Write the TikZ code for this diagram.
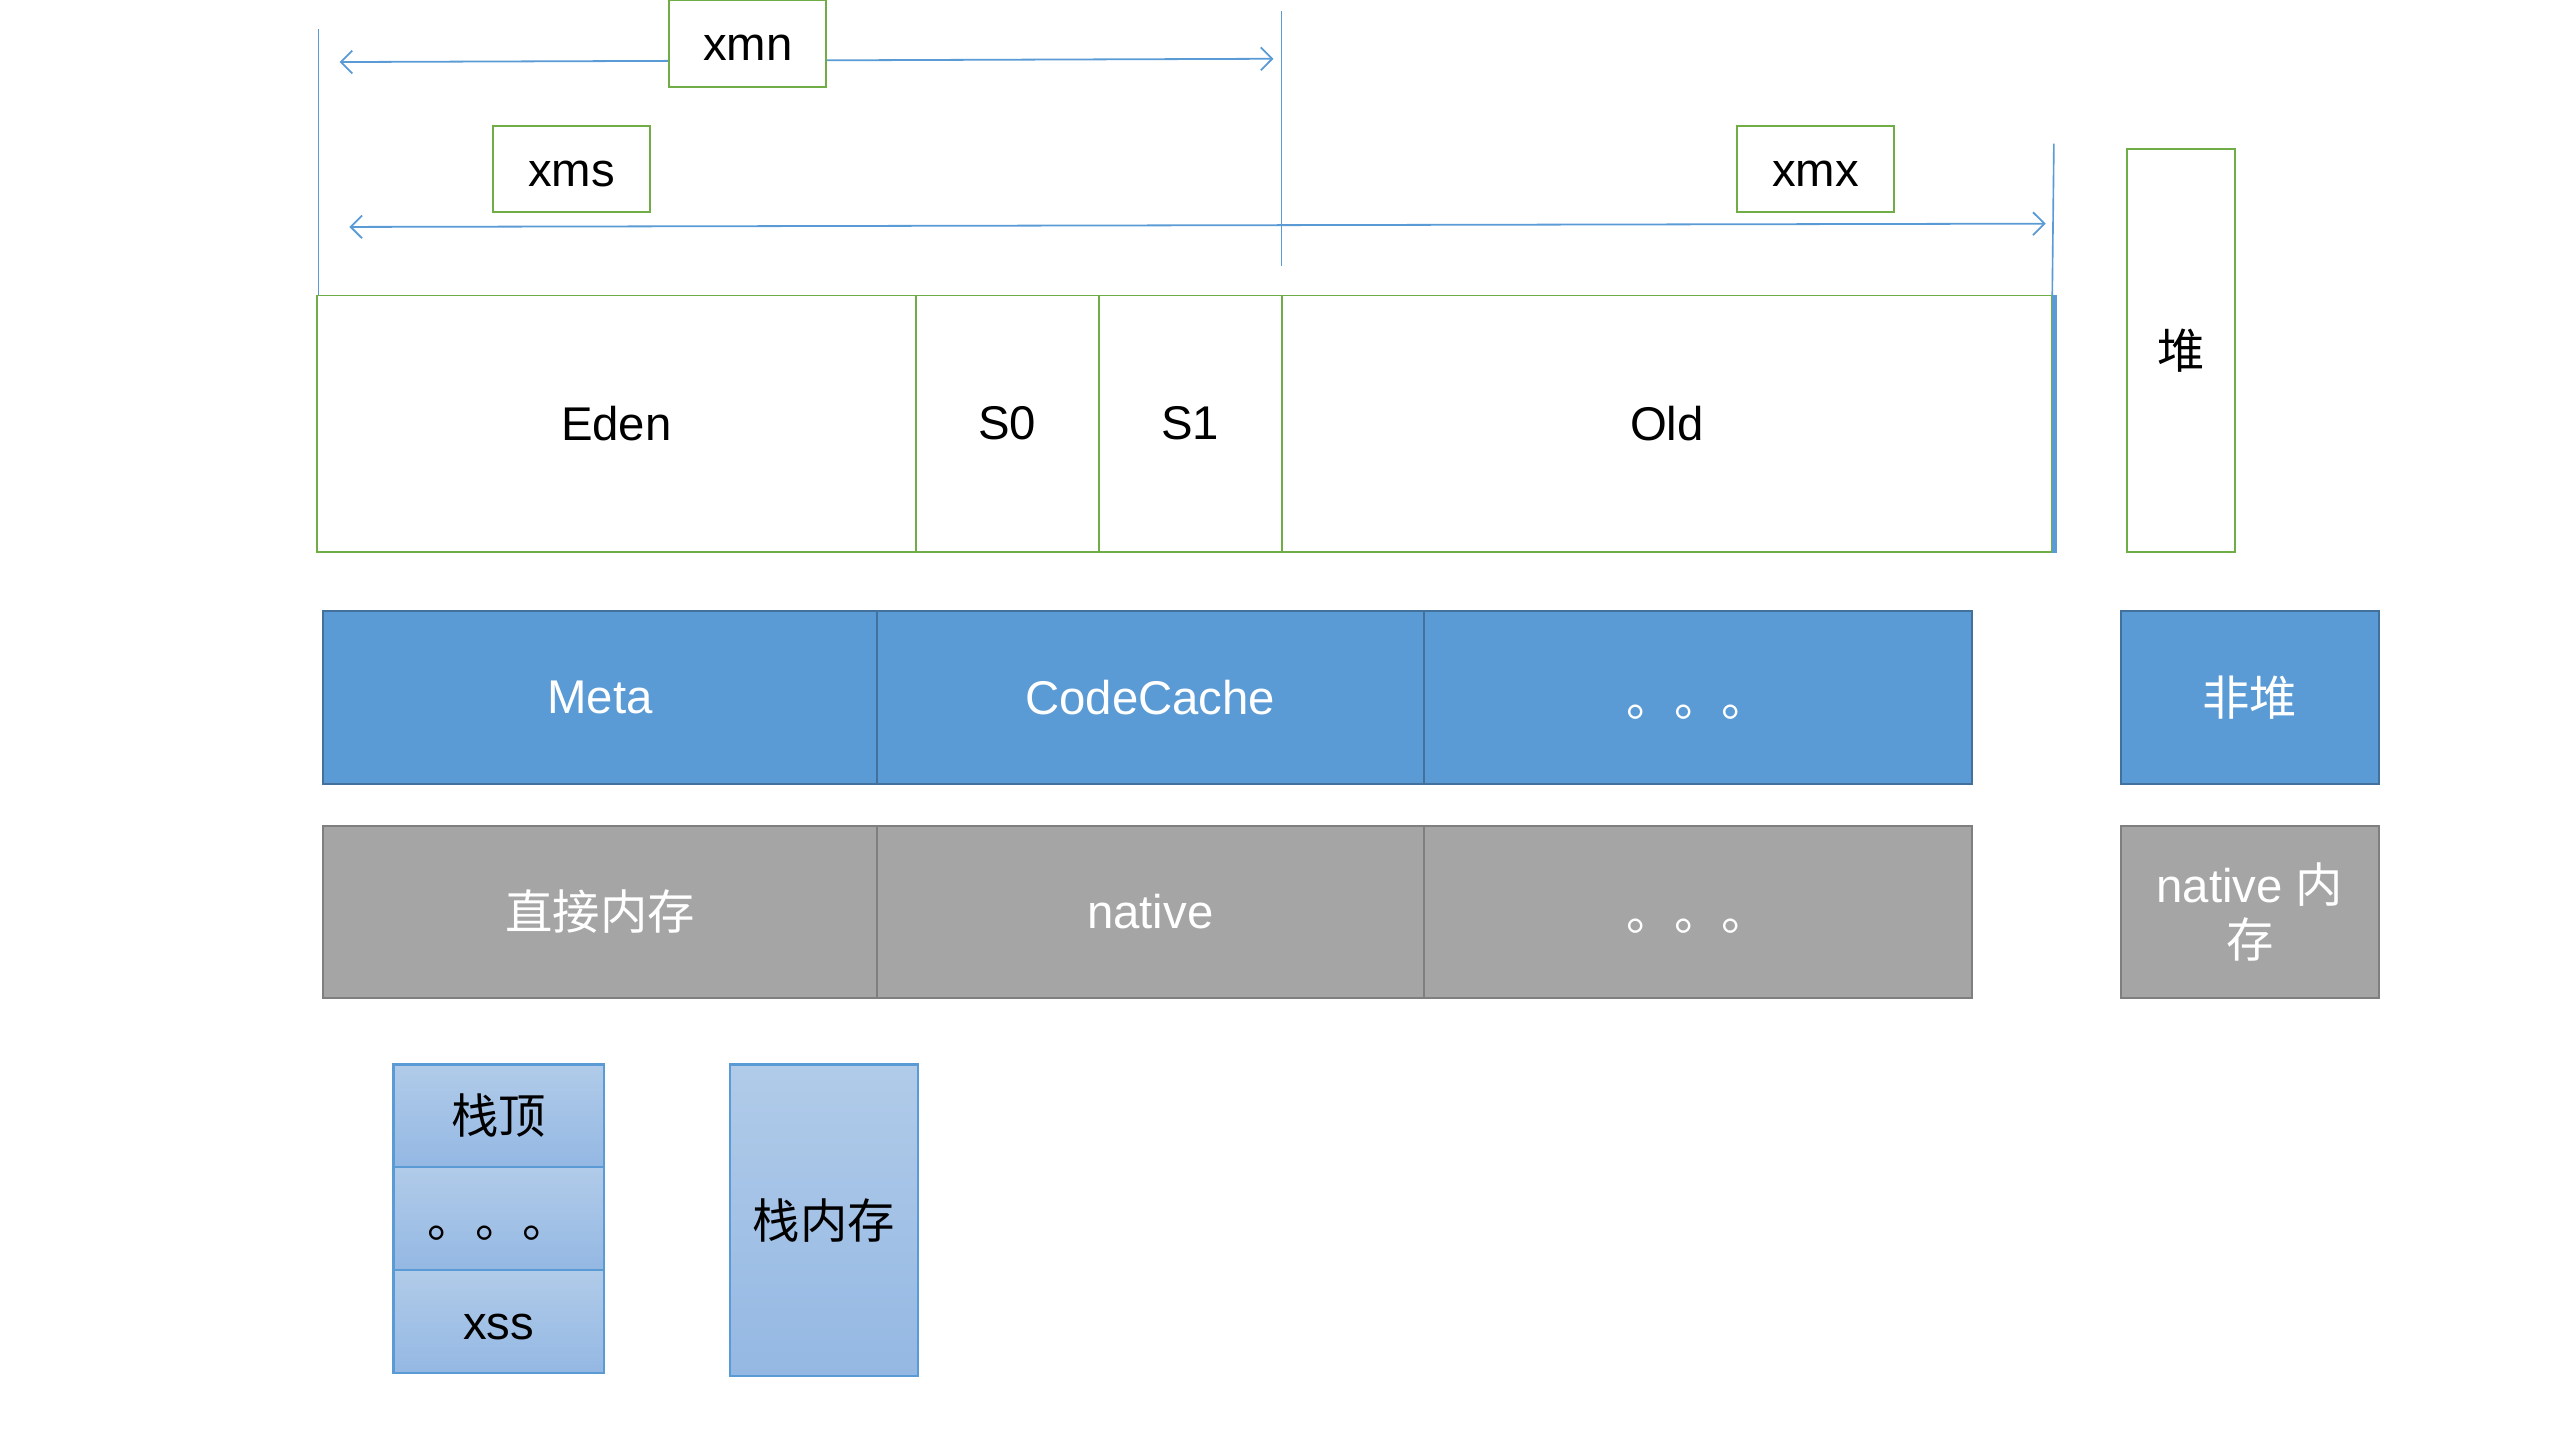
\documentclass[tikz,border=0pt]{standalone}
\usepackage{fontspec}
\setmainfont{Liberation Sans}
\newfontfamily\cjk{Noto Sans CJK SC}
\usetikzlibrary{arrows.meta}
\definecolor{gline}{HTML}{70AD47}
\definecolor{bline}{HTML}{5B9BD5}
\definecolor{bfill}{HTML}{5B9BD5}
\definecolor{bborder}{HTML}{41719C}
\definecolor{gfill}{HTML}{A5A5A5}
\definecolor{gborder}{HTML}{7F7F7F}
\definecolor{stacktop}{HTML}{B1CBE9}
\definecolor{stackbot}{HTML}{94B8E3}
\newcommand{\lowdots}{\raisebox{-9pt}[\height][\depth]{\cjk 。。。}}
\newcommand{\lowtxt}[1]{\raisebox{-3pt}[\height][\depth]{#1}}
\begin{document}
\begin{tikzpicture}[x=1pt,y=-1pt,
  txt/.style={font=\fontsize{29}{34}\selectfont, inner sep=0pt, align=center},
  heapbox/.style={draw=gline, line width=1.2pt, fill=white, txt},
  nonheap/.style={draw=bborder, line width=1.2pt, fill=bfill, text=white, txt, minimum height=106pt},
  graybox/.style={draw=gborder, line width=1.2pt, fill=gfill, text=white, txt, minimum height=105pt},
  stackbox/.style={draw=bline, line width=1.3pt, top color=stacktop, bottom color=stackbot, txt},
  guide/.style={draw=bline, line width=1pt},
  arr/.style={draw=bline, line width=1.1pt, arrows={Straight Barb[length=7pt,width=14pt]-Straight Barb[length=7pt,width=14pt]}}
]
\useasboundingbox (0,0) rectangle (1568,882);

% guide lines
\coordinate (gl1) at (195,18);  \coordinate (gl2) at (195,181);
\coordinate (gm1) at (785,7);   \coordinate (gm2) at (785,163);
\coordinate (gr1) at (1258,88); \coordinate (gr2) at (1257,181);
\draw[guide] (gl1) -- (gl2);
\draw[guide] (gm1) -- (gm2);
\draw[guide] (gr1) -- (gr2);

% arrows
\coordinate (xmnL) at (208,38); \coordinate (xmnR) at (780,36);
\coordinate (xmsL) at (214,139); \coordinate (xmsR) at (1253,137);
\draw[arr] (xmnL) -- (xmnR);
\draw[arr] (xmsL) -- (xmsR);

% labels
\node[heapbox, minimum width=96pt, minimum height=53pt] (xmn) at (458,26.5) {\lowtxt{xmn}};
\node[heapbox, minimum width=96pt, minimum height=53pt] (xms) at (350,103.5) {\lowtxt{xms}};
\node[heapbox, minimum width=96pt, minimum height=53pt] (xmx) at (1112,103.5) {\lowtxt{xmx}};

% heap
\node[heapbox, minimum width=367pt, minimum height=157pt] (eden) at (377.5,259.5) {Eden};
\node[heapbox, minimum width=112pt, minimum height=157pt] (s0) at (617,259.5) {S0};
\node[heapbox, minimum width=112pt, minimum height=157pt] (s1) at (729,259.5) {S1};
\node[heapbox, minimum width=472pt, minimum height=157pt] (old) at (1021,259.5) {Old};
\draw[draw=bline, line width=3pt] ([xshift=1pt]old.north east) -- ([xshift=1pt]old.south east);

\node[heapbox, minimum width=66pt, minimum height=247pt] (heap) at (1336,214.5) {};
\node[txt] (heaplbl) at (1336,215) {\cjk 堆};

% non-heap row
\node[nonheap, minimum width=339pt] (meta) at (367.5,427) {Meta};
\node[nonheap, minimum width=335pt] (codecache) at (704.5,427) {CodeCache};
\node[nonheap, minimum width=336pt] (mdots) at (1040,427) {\lowdots};
\node[nonheap, minimum width=158pt] (nonheapbox) at (1378,427) {\cjk 非堆};

% native row
\node[graybox, minimum width=339pt] (direct) at (367.5,558.5) {\cjk 直接内存};
\node[graybox, minimum width=335pt] (native) at (704.5,558.5) {native};
\node[graybox, minimum width=336pt] (ndots) at (1040,558.5) {\lowdots};
\node[graybox, minimum width=158pt] (nativemem) at (1378,558.5) {native {\cjk 内}\\{\cjk 存}};

% stack
\node[stackbox, minimum width=129pt, minimum height=63pt] (top) at (305.5,683.5) {\cjk 栈顶};
\node[stackbox, minimum width=129pt, minimum height=63pt] (sdots) at (305.5,746.5) {\lowdots};
\node[stackbox, minimum width=129pt, minimum height=63pt] (xss) at (305.5,809.5) {\lowtxt{xss}};
\node[stackbox, minimum width=115pt, minimum height=191pt] (stackmem) at (504.5,747.5) {\cjk 栈内存};
\end{tikzpicture}
\end{document}
